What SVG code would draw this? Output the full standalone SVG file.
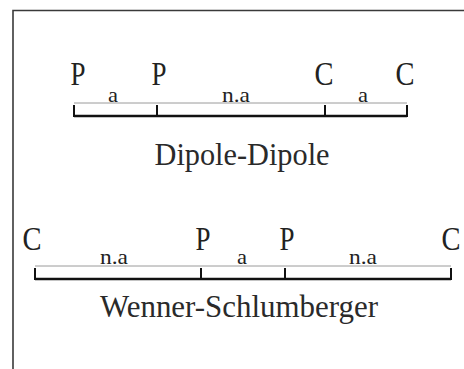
<svg xmlns="http://www.w3.org/2000/svg" width="464" height="369" viewBox="0 0 464 369">
<style>
.el{font-family:'Liberation Serif',serif;font-size:33px;fill:#222;text-anchor:middle}
.lb{font-family:'Liberation Serif',serif;font-size:22px;fill:#222;text-anchor:middle}
.ti{font-family:'Liberation Serif',serif;font-size:31px;fill:#2a2a2a;text-anchor:middle}
.thick{stroke:#111;stroke-width:2.6;fill:none}
.thin{stroke:#9a9a9a;stroke-width:1;fill:none}
.tk{stroke:#111;stroke-width:2;fill:none}
</style>
<rect width="464" height="369" fill="#fff"/>
<path d="M13,369 V10.5 H464" stroke="#3a3a3a" stroke-width="1.6" fill="none"/>
<g id="connectors">
  <path class="thin" d="M74,103 H407"/>
  <path class="thick" d="M74,116 H407"/>
  <path class="tk" d="M74,105 V117 M157,105 V117 M325,105 V117 M407,105 V117"/>
  <path class="thin" d="M35,266 H451"/>
  <path class="thick" d="M35,279 H451"/>
  <path class="tk" d="M35,268 V280 M201,268 V280 M285,268 V280 M451,268 V280"/>
</g>
<g id="dd-P1"><text class="el" x="78" y="85" textLength="15" lengthAdjust="spacingAndGlyphs">P</text></g>
<g id="dd-P2"><text class="el" x="159" y="85" textLength="15" lengthAdjust="spacingAndGlyphs">P</text></g>
<g id="dd-C1"><text class="el" x="324" y="85" textLength="19" lengthAdjust="spacingAndGlyphs">C</text></g>
<g id="dd-C2"><text class="el" x="405" y="85" textLength="19" lengthAdjust="spacingAndGlyphs">C</text></g>
<g id="dd-labels">
  <text class="lb" x="113" y="102" textLength="10" lengthAdjust="spacingAndGlyphs">a</text>
  <text class="lb" x="236" y="102" textLength="28" lengthAdjust="spacingAndGlyphs">n.a</text>
  <text class="lb" x="363" y="102" textLength="10" lengthAdjust="spacingAndGlyphs">a</text>
</g>
<g id="dd-title"><text class="ti" x="242" y="165" textLength="175" lengthAdjust="spacingAndGlyphs">Dipole-Dipole</text></g>
<g id="ws-C1"><text class="el" x="32" y="250" textLength="19" lengthAdjust="spacingAndGlyphs">C</text></g>
<g id="ws-P1"><text class="el" x="203" y="250" textLength="15" lengthAdjust="spacingAndGlyphs">P</text></g>
<g id="ws-P2"><text class="el" x="287" y="250" textLength="15" lengthAdjust="spacingAndGlyphs">P</text></g>
<g id="ws-C2"><text class="el" x="451" y="250" textLength="19" lengthAdjust="spacingAndGlyphs">C</text></g>
<g id="ws-labels">
  <text class="lb" x="114" y="264" textLength="28" lengthAdjust="spacingAndGlyphs">n.a</text>
  <text class="lb" x="242" y="264" textLength="10" lengthAdjust="spacingAndGlyphs">a</text>
  <text class="lb" x="363" y="264" textLength="28" lengthAdjust="spacingAndGlyphs">n.a</text>
</g>
<g id="ws-title"><text class="ti" x="239" y="317" textLength="278" lengthAdjust="spacingAndGlyphs">Wenner-Schlumberger</text></g>
</svg>
